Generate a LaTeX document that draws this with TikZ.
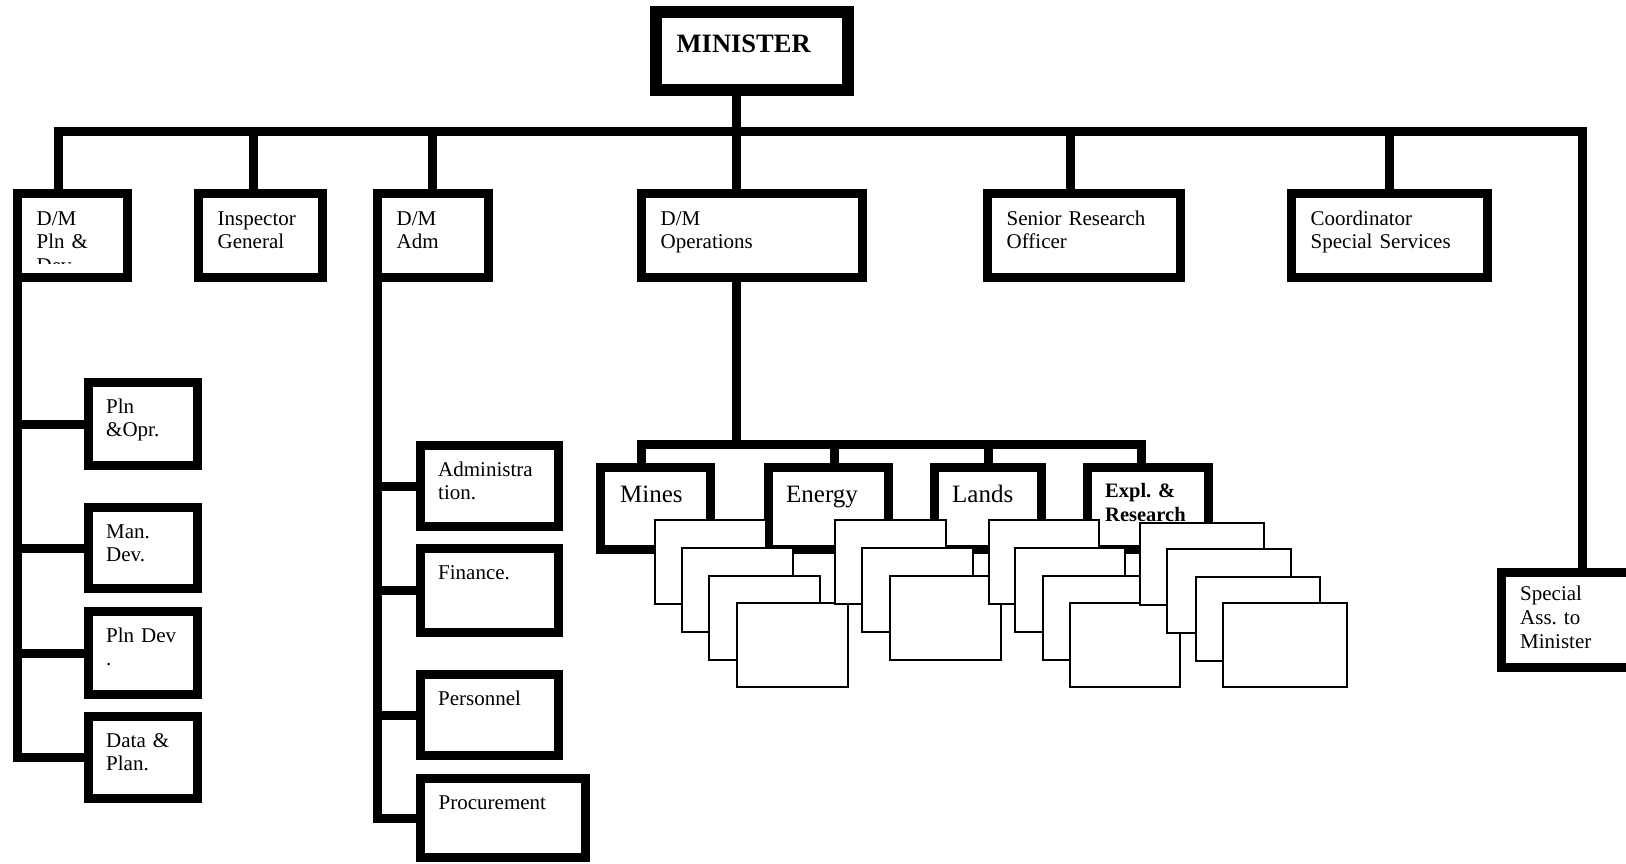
\documentclass[tikz,border=0pt]{standalone}
\usepackage{fontspec}
\setmainfont{Liberation Serif}
\usepackage{tikz}
\usetikzlibrary{calc}
\frenchspacing

\tikzset{
  orgbox/.style={draw, fill=white, line width=9pt, inner sep=0pt, outer sep=0pt},
  subbox/.style={draw, fill=white, line width=2.5pt},
  conn/.style={line width=9pt, line join=miter},
  lbl/.style={anchor=base west, inner sep=0pt, text width=220pt, align=left,
    font=\fontsize{21}{23.5}\selectfont},
}

\begin{document}
\begin{tikzpicture}[x=1pt, y=-1pt]
    % page
    \fill[white, use as bounding box] (0,0) rectangle (1626,863);

    % Minister
    \node[orgbox, line width=12pt, minimum width=192pt, minimum height=78pt] (minister) at (752,51) {};
    \node[lbl, font=\bfseries\fontsize{26.5}{28}\selectfont] (minister-t) at ($(minister.north west)+(20.5,40)$) {MINISTER};

    % Deputy ministers and staff
    \node[orgbox, minimum width=110pt, minimum height=84pt] (dmpln) at (72.5,235.5) {};
    \node[orgbox, minimum width=124pt, minimum height=84pt] (insp) at (260.5,235.5) {};
    \node[orgbox, minimum width=111pt, minimum height=84pt] (dmadm) at (433,235.5) {};
    \node[orgbox, minimum width=221pt, minimum height=84pt] (dmops) at (752,235.5) {};
    \node[orgbox, minimum width=193pt, minimum height=84pt] (senior) at (1084,235.5) {};
    \node[orgbox, minimum width=196pt, minimum height=84pt] (coord) at (1389.5,235.5) {};
    \node[orgbox, minimum width=145pt, minimum height=95.5pt] (special) at (1574,620) {};

    \begin{scope}
      \clip ($(dmpln.north west)+(4.5,4.5)$) rectangle ($(dmpln.south east)+(-4.5,-14.5)$);
      \node[lbl] (dmpln-t) at ($(dmpln.north west)+(19,31.5)$) {D/M\\Pln \&\\Dev};
    \end{scope}
    \node[lbl] (insp-t) at ($(insp.north west)+(19,31.5)$) {Inspector\\General};
    \node[lbl] (dmadm-t) at ($(dmadm.north west)+(19,31.5)$) {D/M\\Adm};
    \node[lbl] (dmops-t) at ($(dmops.north west)+(19,31.5)$) {D/M\\Operations};
    \node[lbl] (senior-t) at ($(senior.north west)+(19,31.5)$) {Senior Research\\Officer};
    \node[lbl] (coord-t) at ($(coord.north west)+(19,31.5)$) {Coordinator\\Special Services};
    \node[lbl, font=\fontsize{21}{24}\selectfont] (special-t) at ($(special.north west)+(18.5,28)$) {Special\\Ass. to\\Minister};

    % Planning units
    \node[orgbox, minimum width=109pt, minimum height=83pt] (plnopr) at (142.5,424) {};
    \node[orgbox, minimum width=109pt, minimum height=81pt] (mandev) at (142.5,548) {};
    \node[orgbox, minimum width=109pt, minimum height=83pt] (plndev) at (142.5,653) {};
    \node[orgbox, minimum width=109pt, minimum height=82pt] (data) at (142.5,757.5) {};
    \node[lbl] (plnopr-t) at ($(plnopr.north west)+(18,30.5)$) {Pln\\\&Opr.};
    \node[lbl] (mandev-t) at ($(mandev.north west)+(18,30.5)$) {Man.\\Dev.};
    \node[lbl] (plndev-t) at ($(plndev.north west)+(18,30.5)$) {Pln Dev\\.};
    \node[lbl] (data-t) at ($(data.north west)+(18,30.5)$) {Data \&\\Plan.};

    % Administration units
    \node[orgbox, minimum width=138pt, minimum height=81pt] (admin) at (489,486) {};
    \node[orgbox, minimum width=138pt, minimum height=84pt] (finance) at (489,590.5) {};
    \node[orgbox, minimum width=138pt, minimum height=81pt] (personnel) at (489,715) {};
    \node[orgbox, minimum width=165pt, minimum height=79pt] (procure) at (503,818) {};
    \node[lbl] (admin-t) at ($(admin.north west)+(18,30.5)$) {Administra\\tion.};
    \node[lbl] (finance-t) at ($(finance.north west)+(18,30.5)$) {Finance.};
    \node[lbl] (personnel-t) at ($(personnel.north west)+(18,30.5)$) {Personnel};
    \node[lbl] (procure-t) at ($(procure.north west)+(18,30.5)$) {Procurement};

    % Operations divisions
    \node[orgbox, minimum width=110pt, minimum height=82pt] (mines) at (655,508) {};
    \node[orgbox, minimum width=120pt, minimum height=82pt] (energy) at (828,508) {};
    \node[orgbox, minimum width=107pt, minimum height=82pt] (lands) at (987.5,508) {};
    \node[orgbox, minimum width=121pt, minimum height=82pt] (expl) at (1147.5,508) {};
    \node[lbl, font=\fontsize{25}{27}\selectfont] (mines-t) at ($(mines.north west)+(20,35)$) {Mines};
    \node[lbl, font=\fontsize{25}{27}\selectfont] (energy-t) at ($(energy.north west)+(18,35)$) {Energy};
    \node[lbl, font=\fontsize{25}{27}\selectfont] (lands-t) at ($(lands.north west)+(18,35)$) {Lands};
    \node[lbl, font=\bfseries\fontsize{20.5}{24}\selectfont] (expl-t) at ($(expl.north west)+(18,30)$) {Expl. \&\\Research};

    % Sections under each division
    \filldraw[subbox] (655,520) rectangle ++(111,84);
    \filldraw[subbox] (682,548) rectangle ++(111,84);
    \filldraw[subbox] (709,576) rectangle ++(111,84);
    \filldraw[subbox] (737,603) rectangle ++(111,84);
    % energy
    \filldraw[subbox] (835,520) rectangle ++(111,84);
    \filldraw[subbox] (862,548) rectangle ++(111,84);
    \filldraw[subbox] (890,576) rectangle ++(111,84);
    % lands
    \filldraw[subbox] (989,520) rectangle ++(110,84);
    \filldraw[subbox] (1015,548) rectangle ++(110,84);
    \filldraw[subbox] (1043,576) rectangle ++(110,84);
    \filldraw[subbox] (1070,603) rectangle ++(110,84);
    % expl
    \filldraw[subbox] (1140,523) rectangle ++(124,82);
    \filldraw[subbox] (1167,549) rectangle ++(124,84);
    \filldraw[subbox] (1196,577) rectangle ++(124,84);
    \filldraw[subbox] (1223,603) rectangle ++(124,84);

    % Main bus
    \coordinate (busL) at (58.5,131.5);
    \coordinate (busR) at (1582.5,131.5);
    \draw[conn] ($(dmpln.north)+(-14,0)$) -- (busL) -- (busR) -- ($(special.north)+(8.5,0)$);
    \draw[conn] ($(minister.south)+(-15.5,0)$) |- (busL);
    \draw[conn] ($(insp.north)+(-7.5,0)$) |- (busL);
    \draw[conn] ($(dmadm.north)+(-0.5,0)$) |- (busL);
    \draw[conn] ($(dmops.north)+(-15.5,0)$) |- (busL);
    \draw[conn] ($(senior.north)+(-14,0)$) |- (busR);
    \draw[conn] ($(coord.north)+(-0.5,0)$) |- (busR);

    % Planning and administration branches
    \draw[conn] (dmpln.south west) |- (plnopr.west);
    \draw[conn] (dmpln.south west) |- (mandev.west);
    \draw[conn] (dmpln.south west) |- (plndev.west);
    \draw[conn] (dmpln.south west) |- (data.west);
    \draw[conn] (dmadm.south west) |- (admin.west);
    \draw[conn] (dmadm.south west) |- (finance.west);
    \draw[conn] (dmadm.south west) |- (personnel.west);
    \draw[conn] (dmadm.south west) |- (procure.west);

    % Operations bar
    \coordinate (barL) at (641.5,444.5);
    \coordinate (barR) at (1141,444.5);
    \draw[conn] ($(mines.north)+(-13.5,0)$) -- (barL) -- (barR) -- ($(expl.north)+(-6.5,0)$);
    \draw[conn] ($(dmops.south)+(-15.5,0)$) |- (barL);
    \draw[conn] ($(energy.north)+(6,0)$) |- (barR);
    \draw[conn] ($(lands.north)+(0.5,0)$) |- (barR);
\end{tikzpicture}
\end{document}
